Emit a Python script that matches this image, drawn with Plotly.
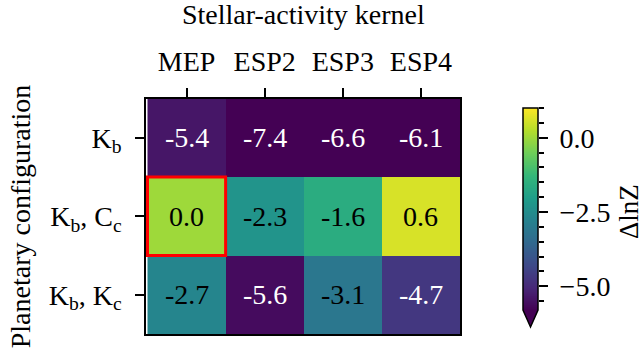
import numpy as np
import plotly.graph_objects as go

# ---- data ----
kernels = ["MEP", "ESP2", "ESP3", "ESP4"]
configs = ["K<sub>b</sub>", "K<sub>b</sub>, C<sub>c</sub>", "K<sub>b</sub>, K<sub>c</sub>"]
dlnz_kb = [-5.4, -7.4, -6.6, -6.1]
dlnz_kb_cc = [0.0, -2.3, -1.6, 0.6]
dlnz_kb_kc = [-2.7, -5.6, -3.1, -4.7]
reference_cell = ("MEP", "K<sub>b</sub>, C<sub>c</sub>")
cbar_ticks = [-5.0, -2.5, 0.0]
zmin, zmax = -5.8, 1.0

z = [dlnz_kb, dlnz_kb_cc, dlnz_kb_kc]

W, H = 643, 358
FONT = "Times New Roman"
FS = 28

def px(x):
    return x / W

def py(y):
    return 1 - y / H

hm_x = [px(146), px(460)]
hm_y = [py(334), py(98.5)]
cb_left, cb_right, cb_top, cb_bot, cb_tip = 523, 538, 108, 310, 327

fig = go.Figure()
fig.add_trace(go.Heatmap(
    x=kernels, y=configs, z=z, colorscale="Viridis", zmin=zmin, zmax=zmax,
    showscale=False, xaxis="x", yaxis="y", hoverinfo="skip"))

# fake colorbar gradient
levels = np.linspace(zmin, zmax, 300)
fig.add_trace(go.Heatmap(
    x=[0], y=levels, z=[[v] for v in levels], colorscale="Viridis",
    zmin=zmin, zmax=zmax, showscale=False, xaxis="x2", yaxis="y2", hoverinfo="skip"))

axis_common = dict(showgrid=False, zeroline=False, linecolor="black", linewidth=1.5,
                   tickcolor="black", tickwidth=1.5, ticklen=9,
                   tickfont=dict(family=FONT, size=FS, color="black"))

fig.update_layout(
    width=W, height=H, margin=dict(l=0, r=0, t=0, b=0),
    paper_bgcolor="white", plot_bgcolor="white",
    font=dict(family=FONT, size=FS, color="black"),
    xaxis=dict(domain=hm_x, anchor="y", side="top", ticks="outside", showline=True,
               mirror=True, ticklabelstandoff=6, **axis_common),
    yaxis=dict(domain=hm_y, anchor="x", autorange="reversed", ticks="outside",
               showline=True, mirror=True, ticklabelstandoff=8,
               categoryorder="array", categoryarray=configs, **axis_common),
    xaxis2=dict(domain=[px(cb_left), px(cb_right)], anchor="y2", range=[-0.5, 0.5],
                showticklabels=False, ticks="", showgrid=False, zeroline=False, showline=False),
    yaxis2=dict(domain=[py(cb_bot), py(cb_top)], anchor="x2", side="right",
                range=[zmin, zmax], tickvals=cbar_ticks, tickformat=".1f",
                ticks="outside", showline=False, ticklabelstandoff=6,
                minor=dict(dtick=0.5, tick0=0, ticks="outside", ticklen=5,
                           tickwidth=1.5, tickcolor="black"),
                **axis_common),
    showlegend=False,
)

# cell annotations
annotations = []
for r, row in enumerate(z):
    for c, v in enumerate(row):
        annotations.append(dict(
            x=kernels[c], y=configs[r], xref="x", yref="y", text=f"{v:.1f}",
            showarrow=False,
            font=dict(family=FONT, size=FS, color="white" if v < -4.0 else "black")))

annotations += [
    dict(x=(hm_x[0] + hm_x[1]) / 2, y=py(14), xref="paper", yref="paper",
         text="Stellar-activity kernel", showarrow=False, xanchor="center", yanchor="middle",
         font=dict(family=FONT, size=FS)),
    dict(x=px(20), y=(hm_y[0] + hm_y[1]) / 2, xref="paper", yref="paper",
         text="Planetary configuration", showarrow=False, textangle=-90,
         xanchor="center", yanchor="middle", font=dict(family=FONT, size=FS)),
    dict(x=px(629), y=py(212), xref="paper", yref="paper", text="ΔlnZ",
         showarrow=False, textangle=-90, xanchor="center", yanchor="middle",
         font=dict(family=FONT, size=FS - 1)),
]
fig.update_layout(annotations=annotations)

# highlight reference cell
ix = kernels.index(reference_cell[0])
iy = configs.index(reference_cell[1])
shapes = [dict(type="rect", xref="x", yref="y", x0=ix - 0.5, x1=ix + 0.5,
               y0=iy - 0.5, y1=iy + 0.5, line=dict(color="red", width=3))]

# colorbar extension triangle + outline
xl, xr, xc = px(cb_left), px(cb_right), px((cb_left + cb_right) / 2)
yt, yb, ytip = py(cb_top), py(cb_bot), py(cb_tip)
shapes.append(dict(type="path", xref="paper", yref="paper",
                   path=f"M {xl},{yb} L {xr},{yb} L {xc},{ytip} Z",
                   fillcolor="#440154", line=dict(width=0)))
shapes.append(dict(type="path", xref="paper", yref="paper",
                   path=f"M {xl},{yt} L {xr},{yt} L {xr},{yb} L {xc},{ytip} L {xl},{yb} Z",
                   fillcolor="rgba(0,0,0,0)", line=dict(color="black", width=1.5)))
fig.update_layout(shapes=shapes)

fig.write_html("out.html")
